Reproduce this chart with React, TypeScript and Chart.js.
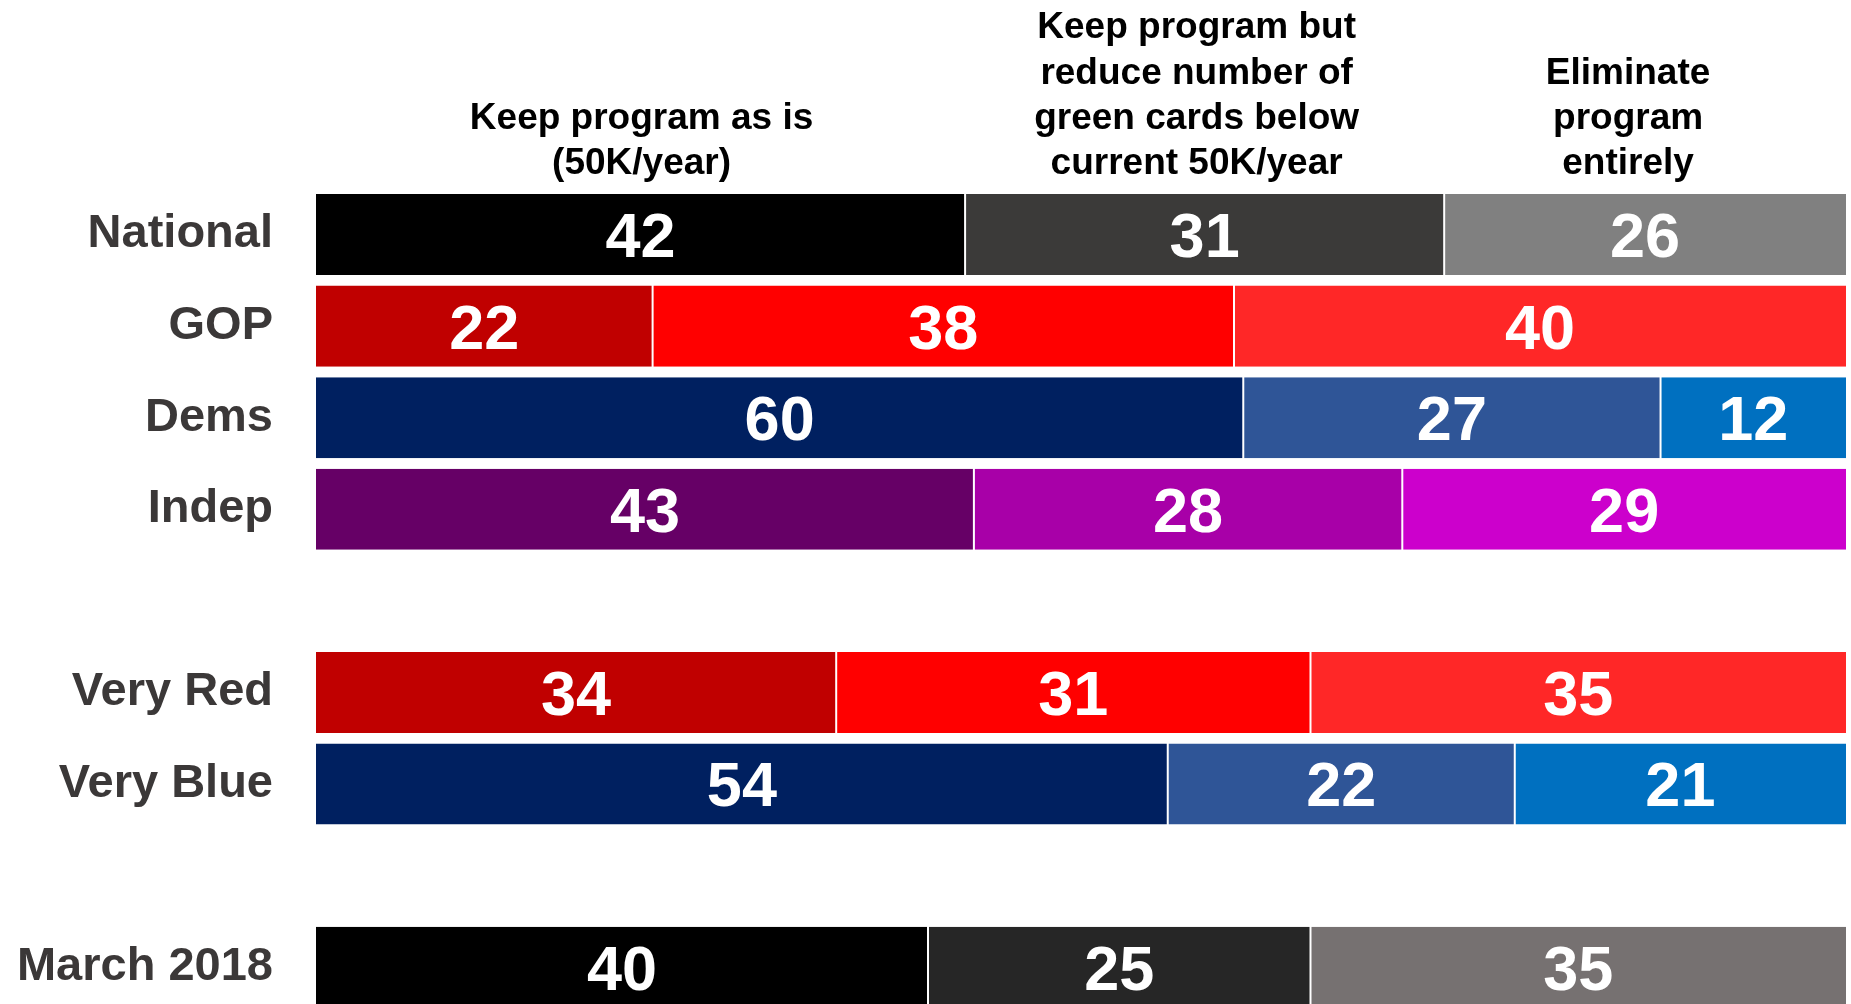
import React, { useEffect, useRef } from "react";
import { Chart, registerables } from "chart.js";

Chart.register(...registerables);

const categories = ["National", "GOP", "Dems", "Indep", "", "Very Red", "Very Blue", "", "March 2018"];
const keepAsIs = [42, 22, 60, 43, null, 34, 54, null, 40];
const reduceNumber = [31, 38, 27, 28, null, 31, 22, null, 25];
const eliminate = [26, 40, 12, 29, null, 35, 21, null, 35];

const keepColors = ["#000000", "#C00000", "#002060", "#660066", "#ffffff", "#C00000", "#002060", "#ffffff", "#000000"];
const reduceColors = ["#3B3A39", "#FF0000", "#2F5597", "#A800A8", "#ffffff", "#FF0000", "#2F5597", "#ffffff", "#262626"];
const elimColors = ["#808080", "#FF2727", "#0070C0", "#CC00CC", "#ffffff", "#FF2727", "#0070C0", "#ffffff", "#767171"];

const headerKeep = ["Keep program as is", "(50K/year)"];
const headerReduce = ["Keep program but", "reduce number of", "green cards below", "current 50K/year"];
const headerElim = ["Eliminate", "program", "entirely"];

const FONT = '"Liberation Sans", Arial, sans-serif';

const rawSeries = [keepAsIs, reduceNumber, eliminate];
const headers = [headerKeep, headerReduce, headerElim];
const headerShift = [1, -8, -17];

function rowTotal(i: number): number {
  return rawSeries.reduce((s, arr) => s + (arr[i] ?? 0), 0);
}
function normalized(arr: (number | null)[]): (number | null)[] {
  return arr.map((v, i) => (v == null ? null : (v / rowTotal(i)) * 100));
}

const labelPlugin = {
  id: "segLabels",
  afterDatasetsDraw(chart: any) {
    const ctx = chart.ctx;
    ctx.save();
    ctx.fillStyle = "#ffffff";
    ctx.font = `bold 63px ${FONT}`;
    ctx.textAlign = "center";
    ctx.textBaseline = "middle";
    chart.data.datasets.forEach((ds: any, di: number) => {
      const meta = chart.getDatasetMeta(di);
      meta.data.forEach((el: any, i: number) => {
        const v = rawSeries[di][i];
        if (v == null) return;
        const cx = (el.x + el.base) / 2;
        ctx.fillText(String(v), cx, el.y + 5);
      });
    });
    ctx.restore();
  },
};

const headerPlugin = {
  id: "headers",
  afterDraw(chart: any) {
    const ctx = chart.ctx;
    const area = chart.chartArea;
    ctx.save();
    ctx.fillStyle = "#000000";
    ctx.font = `bold 37px ${FONT}`;
    ctx.textAlign = "center";
    ctx.textBaseline = "alphabetic";
    const lineH = 45.3;
    const lastBase = area.top - 14.5;
    headers.forEach((lines, di) => {
      const el = chart.getDatasetMeta(di).data[0];
      const cx = (el.x + el.base) / 2 + headerShift[di];
      lines.forEach((t, li) => {
        const y = lastBase - (lines.length - 1 - li) * lineH;
        ctx.fillText(t, cx, y);
      });
    });
    ctx.restore();
  },
};

export default function App() {
  const ref = useRef<HTMLCanvasElement>(null);
  useEffect(() => {
    if (!ref.current) return;
    const mk = (label: string, arr: (number | null)[], colors: string[], bw: any) => ({
      label,
      data: normalized(arr),
      backgroundColor: colors,
      borderColor: "#ffffff",
      borderWidth: bw,
      borderSkipped: false,
      barPercentage: 1,
      categoryPercentage: 0.885,
    });
    const chart = new Chart(ref.current, {
      type: "bar",
      data: {
        labels: categories,
        datasets: [
          mk("Keep program as is", keepAsIs, keepColors, { right: 1, left: 0, top: 0, bottom: 0 }),
          mk("Reduce", reduceNumber, reduceColors, { right: 1, left: 1, top: 0, bottom: 0 }),
          mk("Eliminate", eliminate, elimColors, { right: 0, left: 1, top: 0, bottom: 0 }),
        ],
      },
      options: {
        indexAxis: "y",
        animation: false,
        responsive: false,
        maintainAspectRatio: false,
        devicePixelRatio: 1,
        layout: { padding: { top: 188.75, right: 5, bottom: 0, left: 0 } },
        plugins: { legend: { display: false }, tooltip: { enabled: false } },
        scales: {
          x: { stacked: true, min: 0, max: 100, display: false },
          y: {
            stacked: true,
            grid: { display: false, drawTicks: false },
            border: { display: false },
            ticks: {
              color: "#3B3838",
              font: { family: FONT, size: 47, weight: "bold" },
              padding: 43,
            },
            afterFit: (s: any) => {
              s.width = 316;
              s.paddingTop = 0;
              s.paddingBottom = 0;
            },
          },
        },
      },
      plugins: [labelPlugin, headerPlugin],
    });
    return () => chart.destroy();
  }, []);
  return (
    <div style={{ position: "fixed", top: 0, left: 0, width: 1851, height: 1004, overflow: "hidden", background: "#fff" }}>
      <canvas ref={ref} width={1851} height={1013} style={{ display: "block", width: 1851, height: 1013 }} />
    </div>
  );
}
